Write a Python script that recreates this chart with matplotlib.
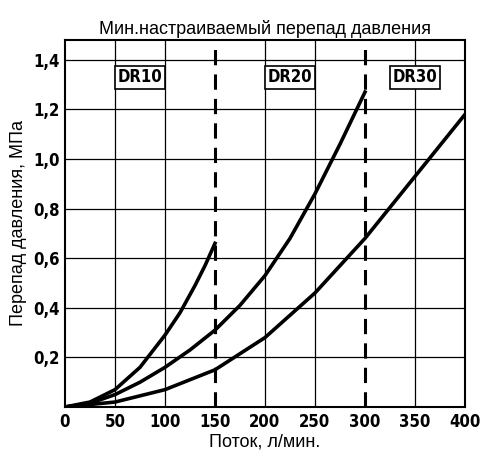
import matplotlib
matplotlib.use("Agg")
import matplotlib.pyplot as plt

dr10_x = [0, 25, 50, 75, 100, 115, 130, 140, 150]
dr10_y = [0, 0.02, 0.07, 0.16, 0.29, 0.38, 0.49, 0.57, 0.66]
dr20_x = [0, 25, 50, 75, 100, 125, 150, 175, 200, 225, 250, 275, 300]
dr20_y = [0, 0.015, 0.05, 0.10, 0.16, 0.23, 0.31, 0.41, 0.53, 0.68, 0.86, 1.06, 1.27]
dr30_x = [0, 50, 100, 150, 200, 250, 300, 350, 400]
dr30_y = [0, 0.02, 0.07, 0.15, 0.28, 0.46, 0.68, 0.93, 1.18]
xticks = [0, 50, 100, 150, 200, 250, 300, 350, 400]
yticks = [0.2, 0.4, 0.6, 0.8, 1.0, 1.2, 1.4]
labels = [("DR10", 75), ("DR20", 225), ("DR30", 350)]

fig = plt.figure(figsize=(4.87, 4.62), dpi=100)
ax = fig.add_axes([65 / 487, 55 / 462, 400 / 487, 367 / 462])
ax.set_xlim(0, 400)
ax.set_ylim(0, 1.48)

for x in xticks[1:]:
    if x in (150, 300):
        ax.axvline(x, color="black", lw=2.2, ls=(0, (5, 3)))
    else:
        ax.axvline(x, color="black", lw=0.9)
for y in yticks:
    ax.axhline(y, color="black", lw=0.9)

for xs, ys in [(dr10_x, dr10_y), (dr20_x, dr20_y), (dr30_x, dr30_y)]:
    ax.plot(xs, ys, color="black", lw=2.6, solid_joinstyle="round")

bold = dict(family="DejaVu Sans", weight="bold", size=12, stretch="condensed")
for txt, x in labels:
    ax.text(x, 1.33, txt, ha="center", va="center", fontdict=bold,
            bbox=dict(boxstyle="square,pad=0.15", fc="white", ec="black", lw=1.2))

ax.set_xticks(xticks)
ax.set_xticklabels([str(v) for v in xticks], fontdict=bold)
ax.set_yticks(yticks)
ax.set_yticklabels([f"{v:.1f}".replace(".", ",") for v in yticks], fontdict=bold)
ax.tick_params(length=0, pad=4)
for s in ax.spines.values():
    s.set_linewidth(1.5)

reg = dict(family="Liberation Sans", size=13)
ax.set_xlabel("Поток, л/мин.", fontdict=reg, labelpad=2)
ax.set_ylabel("Перепад давления, МПа", fontdict=reg, labelpad=4)
ax.set_title("Мин.настраиваемый перепад давления", fontdict=reg, pad=4)

fig.savefig("out.png", dpi=100)
